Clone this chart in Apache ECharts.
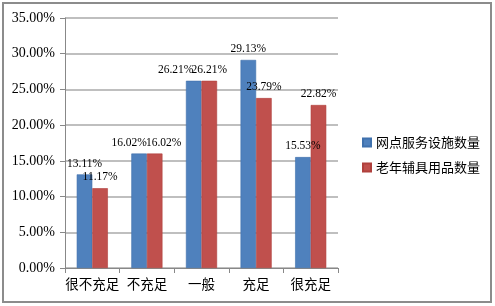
<!DOCTYPE html>
<html>
<head>
<meta charset="utf-8">
<script src="https://cdn.jsdelivr.net/npm/echarts@6/dist/echarts.min.js"></script>
<style>
html,body{margin:0;padding:0;background:#fff;}
#main{width:495px;height:306px;}
</style>
</head>
<body>
<div id="main"></div>
<script>
var categories = ['很不充足', '不充足', '一般', '充足', '很充足'];
var seriesNames = ['网点服务设施数量', '老年辅具用品数量'];
var wangdian = [13.11, 16.02, 26.21, 29.13, 15.53];
var laonian = [11.17, 16.02, 26.21, 23.79, 22.82];

var myChart = echarts.init(document.getElementById('main'));
var serif = '"Liberation Serif", "Noto Sans CJK SC", serif';
var cjk = '"Noto Sans CJK SC", sans-serif';

function pct(p) { return p.value.toFixed(2) + '%'; }

// 标签重叠的地方左右错开一点
var blueData = wangdian.map(function (v, i) {
    var d = {value: v};
    if (i == 1) d.label = {offset: [-10, 0]};
    if (i == 2) d.label = {offset: [-18, 0]};
    return d;
});
var redData = laonian.map(function (v, i) {
    var d = {value: v};
    if (i == 1) d.label = {offset: [9, 0]};
    return d;
});

var option = {
    animation: false,
    backgroundColor: '#fff',
    color: ['#4F81BD', '#C0504D'],
    graphic: [{
        type: 'rect',
        shape: {x: 3, y: 3, width: 488, height: 299},
        style: {fill: 'none', stroke: '#8c8c8c', lineWidth: 2}
    }],
    legend: {
        orient: 'vertical',
        left: 357,
        top: 131,
        itemWidth: 8,
        itemHeight: 8,
        itemGap: 12,
        icon: 'rect',
        textStyle: {fontFamily: cjk, fontSize: 13, color: '#000'},
        data: seriesNames
    },
    grid: {left: 65, right: 157, top: 18, bottom: 38},
    xAxis: {
        type: 'category',
        data: categories,
        axisLine: {lineStyle: {color: '#888', width: 1}},
        axisTick: {show: true, length: 5, lineStyle: {color: '#888'}},
        axisLabel: {interval: 0, fontFamily: cjk, fontSize: 13.5, color: '#000', margin: 9}
    },
    yAxis: {
        type: 'value',
        min: 0,
        max: 35,
        interval: 5,
        axisLine: {show: true, lineStyle: {color: '#888'}},
        axisTick: {show: true, inside: false, length: 5, lineStyle: {color: '#888'}},
        splitLine: {lineStyle: {color: '#aaa', width: 1.5}},
        axisLabel: {
            fontFamily: serif, fontSize: 14, color: '#000', margin: 10,
            formatter: function (v) { return v.toFixed(2) + '%'; }
        }
    },
    series: [
        {
            name: seriesNames[0],
            type: 'bar',
            data: blueData,
            barGap: '0%',
            barCategoryGap: '43%',
            itemStyle: {borderColor: '#3F71AD', borderWidth: 0.6},
            label: {
                show: true, position: 'top', distance: 5,
                fontFamily: serif, fontSize: 11.5, color: '#000',
                formatter: pct
            }
        },
        {
            name: seriesNames[1],
            type: 'bar',
            data: redData,
            itemStyle: {borderColor: '#B0403D', borderWidth: 0.6},
            label: {
                show: true, position: 'top', distance: 5,
                fontFamily: serif, fontSize: 11.5, color: '#000',
                formatter: pct
            }
        }
    ]
};

myChart.setOption(option);
</script>
</body>
</html>
